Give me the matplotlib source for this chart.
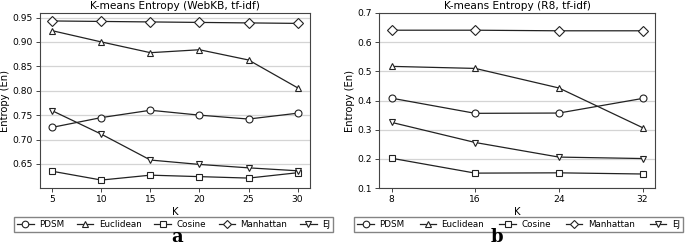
#!/usr/bin/env python3
"""K-means entropy vs K for WebKB and R8 (tf-idf)."""

import matplotlib
matplotlib.use('Agg')
import matplotlib.pyplot as plt

OUT_PATH = "out.png"

# --- WebKB data ---
k_webkb = [5, 10, 15, 20, 25, 30]
webkb_pdsm = [0.725, 0.745, 0.760, 0.750, 0.742, 0.754]
webkb_euclid = [0.923, 0.900, 0.878, 0.884, 0.863, 0.806]
webkb_cosine = [0.635, 0.617, 0.627, 0.624, 0.621, 0.632]
webkb_manhattan = [0.943, 0.942, 0.941, 0.940, 0.939, 0.938]
webkb_ej = [0.759, 0.711, 0.658, 0.649, 0.642, 0.636]

# --- R8 data ---
k_r8 = [8, 16, 24, 32]
r8_pdsm = [0.408, 0.356, 0.357, 0.407]
r8_euclid = [0.517, 0.510, 0.443, 0.307]
r8_cosine = [0.202, 0.151, 0.152, 0.148]
r8_manhattan = [0.641, 0.641, 0.639, 0.639]
r8_ej = [0.325, 0.256, 0.206, 0.201]

series_names = ['PDSM', 'Euclidean', 'Cosine', 'Manhattan', 'EJ']
markers = ['o', '^', 's', 'D', 'v']

plt.rcParams['font.family'] = 'DejaVu Sans'
plt.rcParams['font.size'] = 7

fig = plt.figure(figsize=(6.85, 2.5), dpi=100)
ax1 = fig.add_axes([0.0584, 0.248, 0.394, 0.70])
ax2 = fig.add_axes([0.5533, 0.248, 0.403, 0.70])


def draw(ax, ks, all_series, title, legend_x, colspace):
    for vals, name, m in zip(all_series, series_names, markers):
        ms = 4.6 if m == 'D' else 5
        ax.plot(ks, vals, color='#222222', linewidth=0.9, marker=m,
                markersize=ms, markerfacecolor='white',
                markeredgecolor='#222222', markeredgewidth=0.8, label=name)
    ax.set_xticks(ks)
    ax.set_title(title, fontsize=7.6, pad=3)
    ax.set_xlabel('K', fontsize=7.2, labelpad=2)
    ax.set_ylabel('Entropy (En)', fontsize=7.2, labelpad=2)
    ax.yaxis.grid(True, color='#d4d4d4', linewidth=0.9)
    ax.set_axisbelow(True)
    for sp in ax.spines.values():
        sp.set_color('#444444')
        sp.set_linewidth(0.8)
    ax.tick_params(length=3, width=0.7, color='#444444', labelsize=6.6, pad=2)
    ax.legend(loc='center', bbox_to_anchor=(legend_x, 0.102),
              bbox_transform=fig.transFigure, ncol=5, fontsize=6.3,
              frameon=True, fancybox=False, edgecolor='#666666',
              handlelength=1.9, columnspacing=colspace, handletextpad=0.6,
              borderpad=0.35, markerscale=0.95)


draw(ax1, k_webkb,
     [webkb_pdsm, webkb_euclid, webkb_cosine, webkb_manhattan, webkb_ej],
     'K-means Entropy (WebKB, tf-idf)', 0.2533, 1.47)
draw(ax2, k_r8,
     [r8_pdsm, r8_euclid, r8_cosine, r8_manhattan, r8_ej],
     'K-means Entropy (R8, tf-idf)', 0.757, 1.73)
ax1.set_yticks([0.65, 0.70, 0.75, 0.80, 0.85, 0.90, 0.95])
ax2.set_ylim(0.1, 0.7)

fig.text(0.258, 0.05, 'a', ha='center', va='center', fontsize=13,
         fontweight='bold', family='DejaVu Serif')
fig.text(0.726, 0.05, 'b', ha='center', va='center', fontsize=13,
         fontweight='bold', family='DejaVu Serif')

fig.savefig(OUT_PATH, dpi=100)
print(f"Saved to {OUT_PATH}")
